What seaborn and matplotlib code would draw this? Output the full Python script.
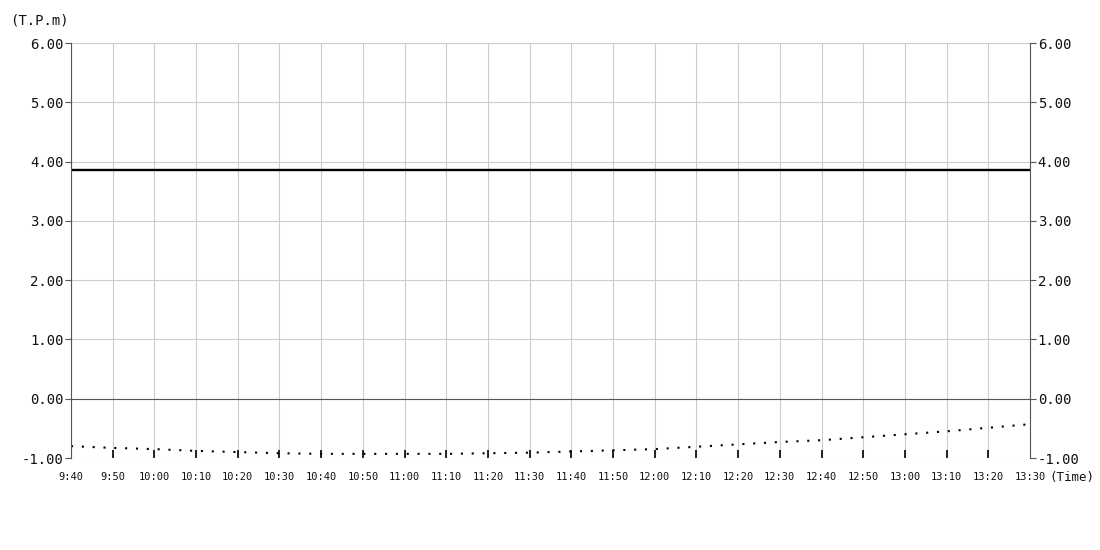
import numpy as np
import pandas as pd
import matplotlib
matplotlib.use("Agg")
import matplotlib.pyplot as plt
import seaborn as sns

# minutes after 9:40, one point per 10 min
minutes = [0, 10, 20, 30, 40, 50, 60, 70, 80, 90, 100, 110, 120,
           130, 140, 150, 160, 170, 180, 190, 200, 210, 220, 230]
tick_labels = ["9:40", "9:50", "10:00", "10:10", "10:20", "10:30", "10:40", "10:50",
               "11:00", "11:10", "11:20", "11:30", "11:40", "11:50", "12:00", "12:10",
               "12:20", "12:30", "12:40", "12:50", "13:00", "13:10", "13:20", "13:30"]
limit_value = [3.86] * len(minutes)
measured = [-0.80, -0.83, -0.85, -0.88, -0.90, -0.92, -0.93, -0.93,
            -0.93, -0.93, -0.92, -0.91, -0.89, -0.87, -0.85, -0.81,
            -0.77, -0.73, -0.70, -0.65, -0.60, -0.55, -0.49, -0.43]
y_ticks = [-1, 0, 1, 2, 3, 4, 5, 6]

df = pd.DataFrame({"minute": minutes, "limit": limit_value, "measured": measured})

sns.set_theme(style="white")
plt.rcParams["font.family"] = ["DejaVu Sans Mono", "DejaVu Sans"]

fig = plt.figure(figsize=(11, 5.5), dpi=100)
ax = fig.add_axes([71 / 1100, 1 - 458 / 550, (1030 - 71) / 1100, (458 - 43) / 550])

sns.lineplot(data=df, x="minute", y="limit", ax=ax, color="black", linewidth=1.7)
sns.lineplot(data=df, x="minute", y="measured", ax=ax, color="black",
             linewidth=1.5, linestyle=(0, (1, 4.2)))

ax.set_xlim(0, 230)
ax.set_ylim(-1, 6)
ax.set_xticks(minutes)
ax.set_xticklabels(tick_labels, fontsize=7.5, color="#111111")
ax.set_yticks(y_ticks)
ax.set_yticklabels([f"{v:.2f}" for v in y_ticks], fontsize=10, color="#111111")
ax.set_xlabel("")
ax.set_ylabel("")

ax.grid(True, color="#cccccc", linewidth=0.8)
ax.axhline(0, color="#555555", linewidth=0.8)
for s in ["top", "bottom"]:
    ax.spines[s].set_visible(False)
ax.spines["left"].set_color("#555555")
ax.spines["right"].set_color("#555555")
ax.spines["left"].set_linewidth(0.8)
ax.spines["right"].set_linewidth(0.8)

ax.tick_params(axis="y", left=True, length=4, width=0.8, color="#555555", pad=1.5)
ax.tick_params(axis="x", bottom=True, direction="in", length=6, width=1.2,
               color="black", pad=10)
# no black tick on the two spines at either end
for t in (ax.xaxis.get_major_ticks()[0], ax.xaxis.get_major_ticks()[-1]):
    t.tick1line.set_visible(False)

ax2 = ax.twinx()
ax2.set_ylim(-1, 6)
ax2.set_yticks(y_ticks)
ax2.set_yticklabels([f"{v:.2f}" for v in y_ticks], fontsize=10, color="#111111")
ax2.tick_params(axis="y", right=True, length=4, width=0.8, color="#555555", pad=1.5)
for s in ["top", "bottom", "left", "right"]:
    ax2.spines[s].set_visible(False)
ax2.grid(False)

fig.text(10 / 1100, 1 - 20 / 550, "(T.P.m)", fontsize=10, va="center", ha="left",
         color="#111111")
fig.text(1049 / 1100, 1 - 477 / 550, "(Time)", fontsize=9, va="center", ha="left",
         color="#111111")

fig.savefig("out.png", dpi=100)
